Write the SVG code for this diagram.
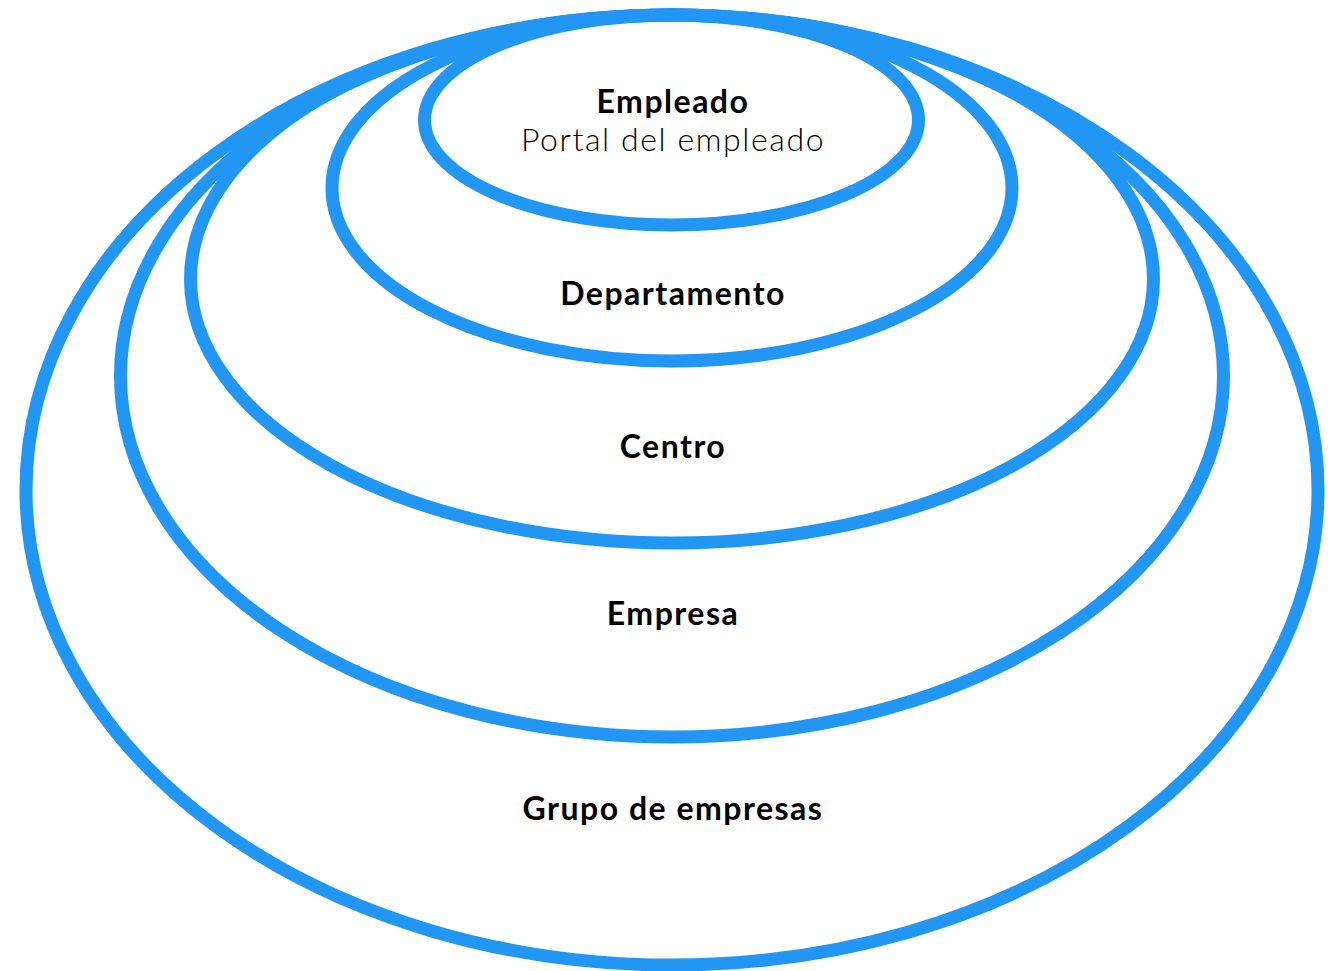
<svg xmlns="http://www.w3.org/2000/svg" width="1334" height="971" viewBox="0 0 1334 971">
<style>
.ring{fill:none;stroke:#2196F3;stroke-width:13}
.t{font-family:Lato,"Noto Sans",sans-serif;font-size:32px;font-weight:700;fill:#000;text-anchor:middle;letter-spacing:1.5px}
.s{font-family:Lato,"Noto Sans",sans-serif;font-size:32px;font-weight:300;fill:#000;text-anchor:middle;letter-spacing:1.6px}
</style>
<rect width="1334" height="971" fill="#fff"/>
<g id="grupo"><ellipse class="ring" cx="672" cy="490" rx="646" ry="475"/><text class="t" x="673" y="820">Grupo de empresas</text></g>
<g id="empresa"><ellipse class="ring" cx="672" cy="376" rx="551.5" ry="361"/><text class="t" x="673" y="625">Empresa</text></g>
<g id="centro"><ellipse class="ring" cx="672" cy="279" rx="481.5" ry="264"/><text class="t" x="673" y="458">Centro</text></g>
<g id="departamento"><ellipse class="ring" cx="672" cy="188" rx="340" ry="173"/><text class="t" x="673" y="305">Departamento</text></g>
<g id="empleado"><ellipse class="ring" cx="671.5" cy="120" rx="247" ry="105"/><text class="t" x="673" y="113">Empleado</text><text class="s" x="673" y="151">Portal del empleado</text></g>
<g id="connectors"/>
</svg>
